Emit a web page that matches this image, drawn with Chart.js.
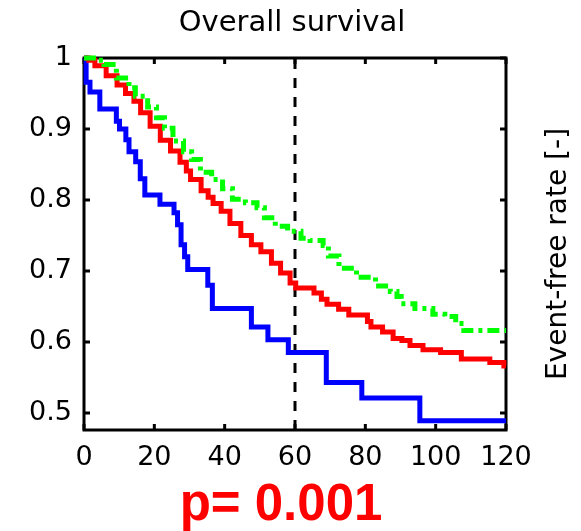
<!DOCTYPE html>
<html lang="en">
<head>
<meta charset="UTF-8">
<title>Overall survival</title>
<script src="https://cdn.jsdelivr.net/npm/chart.js"></script>
<style>
  html, body { margin: 0; padding: 0; background: #fff; }
  #wrap { width: 581px; height: 531px; }
</style>
</head>
<body>
<div id="wrap"><canvas id="km" width="581" height="531"></canvas></div>
<script>
  // Kaplan-Meier curves (time, event-free rate)
  const blueTime = [0, 0.6, 1.7, 4.5, 9.2, 10.1, 11.9, 12.8, 14.7, 16.0, 17.3, 21.6, 25.6, 26.6, 27.6, 28.6, 29.5, 35.2, 36.5, 47.6, 52.3, 58.1, 68.9, 79.0, 95.5, 120];
  const blueRate = [1, 0.966, 0.952, 0.928, 0.911, 0.900, 0.885, 0.868, 0.854, 0.830, 0.807, 0.794, 0.782, 0.765, 0.737, 0.720, 0.702, 0.680, 0.647, 0.621, 0.603, 0.585, 0.543, 0.521, 0.489, 0.489];

  const redTime = [0, 1.4, 3.1, 6.3, 9.4, 11.8, 14.2, 16.1, 18.8, 21.7, 24.6, 27.3, 29.1, 30.3, 33.3, 35.3, 36.7, 39.0, 41.5, 44.6, 47.6, 50.3, 53.3, 55.9, 58.6, 60.2, 65.4, 67.5, 69.1, 72.4, 75.3, 80.6, 81.6, 84.9, 87.9, 90.4, 92.7, 96.4, 101.4, 107.3, 115.4, 119.4, 120];
  const redRate = [1, 0.997, 0.989, 0.975, 0.962, 0.950, 0.939, 0.923, 0.904, 0.884, 0.869, 0.853, 0.841, 0.829, 0.813, 0.804, 0.795, 0.784, 0.767, 0.750, 0.737, 0.727, 0.711, 0.697, 0.683, 0.676, 0.669, 0.660, 0.653, 0.646, 0.638, 0.629, 0.621, 0.614, 0.605, 0.602, 0.595, 0.589, 0.585, 0.576, 0.571, 0.566, 0.566];

  const greenTime = [0, 4.0, 5.7, 9.2, 12.8, 14.6, 18.1, 20.6, 22.9, 25.3, 28.3, 30.6, 33.1, 36.3, 39.4, 42.2, 45.9, 49.2, 51.3, 54.4, 57.9, 61.7, 64.3, 68.0, 69.5, 72.5, 77.5, 82.9, 87.1, 89.0, 90.2, 94.1, 99.2, 102.6, 105.7, 108.0, 120];
  const greenRate = [1, 0.997, 0.991, 0.972, 0.958, 0.946, 0.931, 0.916, 0.901, 0.883, 0.868, 0.857, 0.839, 0.829, 0.816, 0.801, 0.796, 0.789, 0.775, 0.763, 0.756, 0.746, 0.743, 0.736, 0.721, 0.704, 0.691, 0.679, 0.671, 0.664, 0.654, 0.647, 0.639, 0.636, 0.626, 0.616, 0.616];

  const cutoffTime = 60;
  const xTicks = [0, 20, 40, 60, 80, 100, 120];
  const yTicks = [0.5, 0.6, 0.7, 0.8, 0.9, 1];
  const yMin = 0.476, yMax = 1;

  const titleText = 'Overall survival';
  const rightTitle = 'Event-free rate [-]';
  const pText = 'p= 0.001';

  const pts = (t, r) => t.map((x, i) => ({ x, y: r[i] }));
  const tickFont = { family: 'DejaVu Sans', size: 27 };

  // box frame with inward ticks on all four sides, plus the texts
  const decor = {
    id: 'decor',
    beforeDatasetsDraw(chart) {
      const { ctx, chartArea: a, scales: { x, y } } = chart;
      ctx.save();
      ctx.strokeStyle = '#000';
      ctx.lineWidth = 3;
      ctx.strokeRect(a.left, a.top, a.right - a.left, a.bottom - a.top);
      ctx.beginPath();
      xTicks.forEach(v => {
        const px = x.getPixelForValue(v);
        ctx.moveTo(px, a.bottom); ctx.lineTo(px, a.bottom - 6);
        ctx.moveTo(px, a.top); ctx.lineTo(px, a.top + 6);
      });
      yTicks.forEach(v => {
        const py = y.getPixelForValue(v);
        ctx.moveTo(a.left, py); ctx.lineTo(a.left + 6, py);
        ctx.moveTo(a.right, py); ctx.lineTo(a.right - 6, py);
      });
      ctx.stroke();
      ctx.restore();
    },
    afterDraw(chart) {
      const { ctx, chartArea: a } = chart;
      ctx.save();
      ctx.fillStyle = '#000';
      ctx.font = '29px "DejaVu Sans"';
      ctx.textAlign = 'center';
      ctx.textBaseline = 'alphabetic';
      ctx.fillText(titleText, 292, 31);

      ctx.font = '28px "DejaVu Sans"';
      ctx.translate(559, (a.top + a.bottom) / 2 + 10);
      ctx.rotate(-Math.PI / 2);
      ctx.textBaseline = 'middle';
      ctx.fillText(rightTitle, 0, 0);
      ctx.restore();

      ctx.save();
      ctx.fillStyle = '#ff0000';
      ctx.font = 'bold 51px "Liberation Sans"';
      ctx.textAlign = 'center';
      ctx.fillText(pText, 281, 520);
      ctx.restore();
    }
  };

  new Chart(document.getElementById('km'), {
    type: 'line',
    data: {
      datasets: [
        { data: pts(greenTime, greenRate), borderColor: '#00ff00', borderWidth: 5, borderDash: [12, 5, 4, 5], stepped: true, clip: false },
        { data: pts(redTime, redRate), borderColor: '#ff0000', borderWidth: 5, stepped: true, clip: false },
        { data: pts(blueTime, blueRate), borderColor: '#0000ff', borderWidth: 5, stepped: true, clip: false },
        { data: [{ x: cutoffTime, y: yMin }, { x: cutoffTime, y: yMax }], borderColor: '#000', borderWidth: 3, borderDash: [10, 9] }
      ]
    },
    options: {
      responsive: false,
      animation: false,
      devicePixelRatio: 1,
      layout: { padding: { top: 58, right: 75, left: 0, bottom: 0 } },
      elements: { point: { radius: 0 }, line: { borderCapStyle: 'butt', borderJoinStyle: 'miter' } },
      plugins: { legend: { display: false }, tooltip: { enabled: false }, title: { display: false } },
      scales: {
        x: {
          type: 'linear', min: 0, max: 120,
          afterFit: s => { s.height = 101; },
          afterBuildTicks: s => { s.ticks = xTicks.map(v => ({ value: v })); },
          grid: { display: false, drawTicks: false },
          border: { display: false },
          ticks: { padding: 12, color: '#000', font: tickFont, maxRotation: 0 }
        },
        y: {
          type: 'linear', min: yMin, max: yMax,
          afterFit: s => { s.width = 84; },
          afterBuildTicks: s => { s.ticks = yTicks.map(v => ({ value: v })); },
          grid: { display: false, drawTicks: false },
          border: { display: false },
          ticks: { padding: 12, color: '#000', font: tickFont, callback: v => v === 1 ? '1' : v.toFixed(1) }
        }
      }
    },
    plugins: [decor]
  });
</script>
</body>
</html>
